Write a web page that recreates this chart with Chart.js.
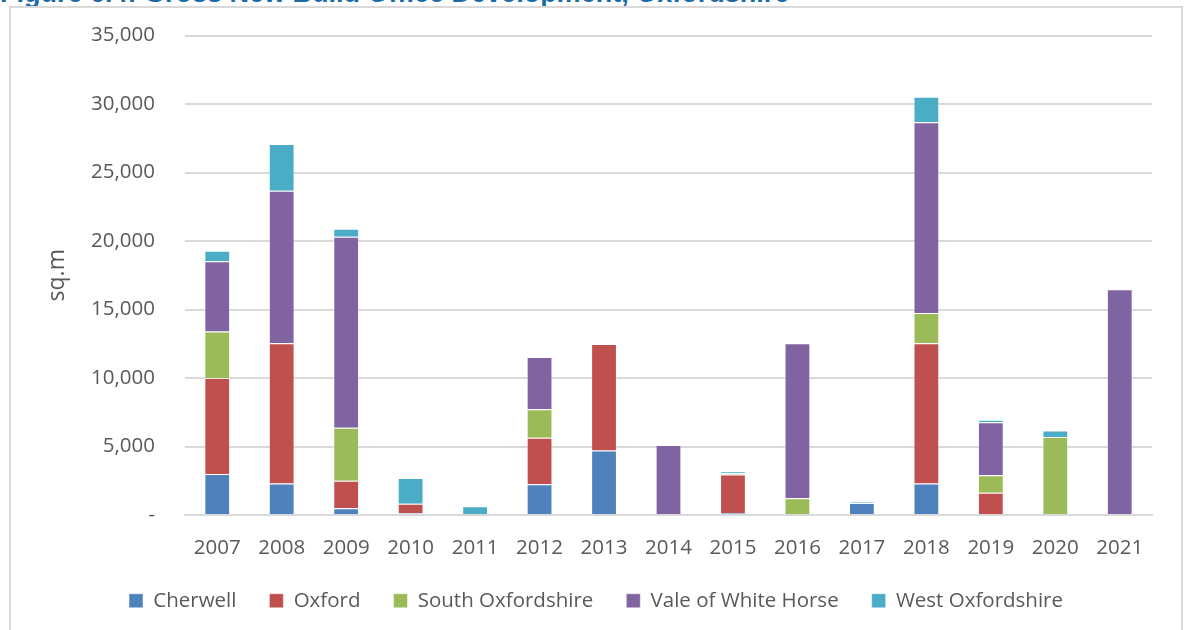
<!DOCTYPE html>
<html>
<head>
<meta charset="utf-8">
<script src="https://cdn.jsdelivr.net/npm/chart.js@4/dist/chart.umd.min.js"></script>
<style>
  body { margin: 0; background: #fff; overflow: hidden; }
  #title {
    position: absolute; left: 0; top: -22px;
    font: bold 27px "Liberation Sans", Arial, sans-serif;
    color: #1b6aa5; white-space: nowrap;
  }
  #frame {
    position: absolute; left: 9px; top: 6px; width: 1170px; height: 640px;
    border: 2px solid #d9d9d9;
  }
  #wrap { position: absolute; left: 0; top: 0; width: 1184px; height: 630px; }
</style>
</head>
<body>
<div id="title">Figure 6.4: Gross New Build Office Development, Oxfordshire</div>
<div id="frame"></div>
<div id="wrap"><canvas id="myChart"></canvas></div>
<script>
// years along the x axis
const years = ['2007', '2008', '2009', '2010', '2011', '2012', '2013', '2014',
    '2015', '2016', '2017', '2018', '2019', '2020', '2021'];

// sq.m of new office floorspace by district
const cherwell = [3000, 2300, 500, 120, 0, 2250, 4700, 0, 150, 0, 880, 2300, 0, 0, 0];
const oxford = [7000, 10230, 2000, 700, 0, 3380, 7780, 0, 2800, 0, 0, 10230, 1630, 0, 0];
const southOxon = [3400, 0, 3870, 0, 0, 2090, 0, 0, 100, 1220, 0, 2210, 1270, 5700, 0];
const valeWH = [5130, 11140, 13940, 0, 0, 3810, 0, 5110, 0, 11310, 0, 13920, 3870, 0, 16470];
const westOxon = [760, 3410, 590, 1880, 630, 0, 0, 0, 150, 0, 70, 1870, 190, 460, 0];

const seriesNames = ['Cherwell', 'Oxford', 'South Oxfordshire', 'Vale of White Horse', 'West Oxfordshire'];
const seriesColors = ['#4f81bd', '#c0504d', '#9bbb59', '#8064a2', '#4bacc6'];
const seriesData = [cherwell, oxford, southOxon, valeWH, westOxon];

const font = "'Open Sans', sans-serif";

function buildData() {
    return {
        labels: years,
        datasets: seriesNames.map((name, i) => ({
            label: name,
            data: seriesData[i],
            backgroundColor: seriesColors[i],
            borderColor: 'rgba(255,255,255,0.45)',
            borderWidth: 1,
            barPercentage: 0.4,
            categoryPercentage: 1.0
        }))
    };
}

function renderChart(ctx) {
    return new Chart(ctx, {
        type: 'bar',
        data: buildData(),
        options: {
            responsive: true,
            maintainAspectRatio: false,
            animation: false,
            layout: { padding: { left: 40, right: 32, top: 35.5, bottom: 9 } },
            plugins: {
                legend: {
                    position: 'bottom',
                    labels: {
                        font: { family: font, size: 20.5 },
                        color: '#595959',
                        boxWidth: 14,
                        boxHeight: 14,
                        padding: 33
                    }
                },
                tooltip: { enabled: false }
            },
            scales: {
                x: {
                    stacked: true,
                    afterFit: scale => { scale.height = 42.5; },
                    grid: { display: false },
                    border: { color: '#d9d9d9', width: 2 },
                    ticks: { font: { family: font, size: 20.5 }, color: '#595959', padding: 13 }
                },
                y: {
                    stacked: true,
                    min: 0,
                    max: 35000,
                    // fixed axis width, and no extra room above/below for the labels
                    afterFit: scale => {
                        scale.width = 145;
                        scale.paddingTop = 0;
                        scale.paddingBottom = 0;
                    },
                    border: { display: false },
                    grid: { color: '#d9d9d9', lineWidth: 2, drawTicks: false },
                    title: {
                        display: true,
                        text: 'sq.m',
                        font: { family: font, size: 23 },
                        color: '#595959'
                    },
                    ticks: {
                        stepSize: 5000,
                        padding: 30,
                        font: { family: font, size: 20.5 },
                        color: '#595959',
                        callback: v => v === 0 ? '-' : v.toLocaleString('en-GB')
                    }
                }
            }
        }
    });
}

window.onload = () => {
    const ctx = document.getElementById('myChart').getContext('2d');
    renderChart(ctx);
};
</script>
</body>
</html>
